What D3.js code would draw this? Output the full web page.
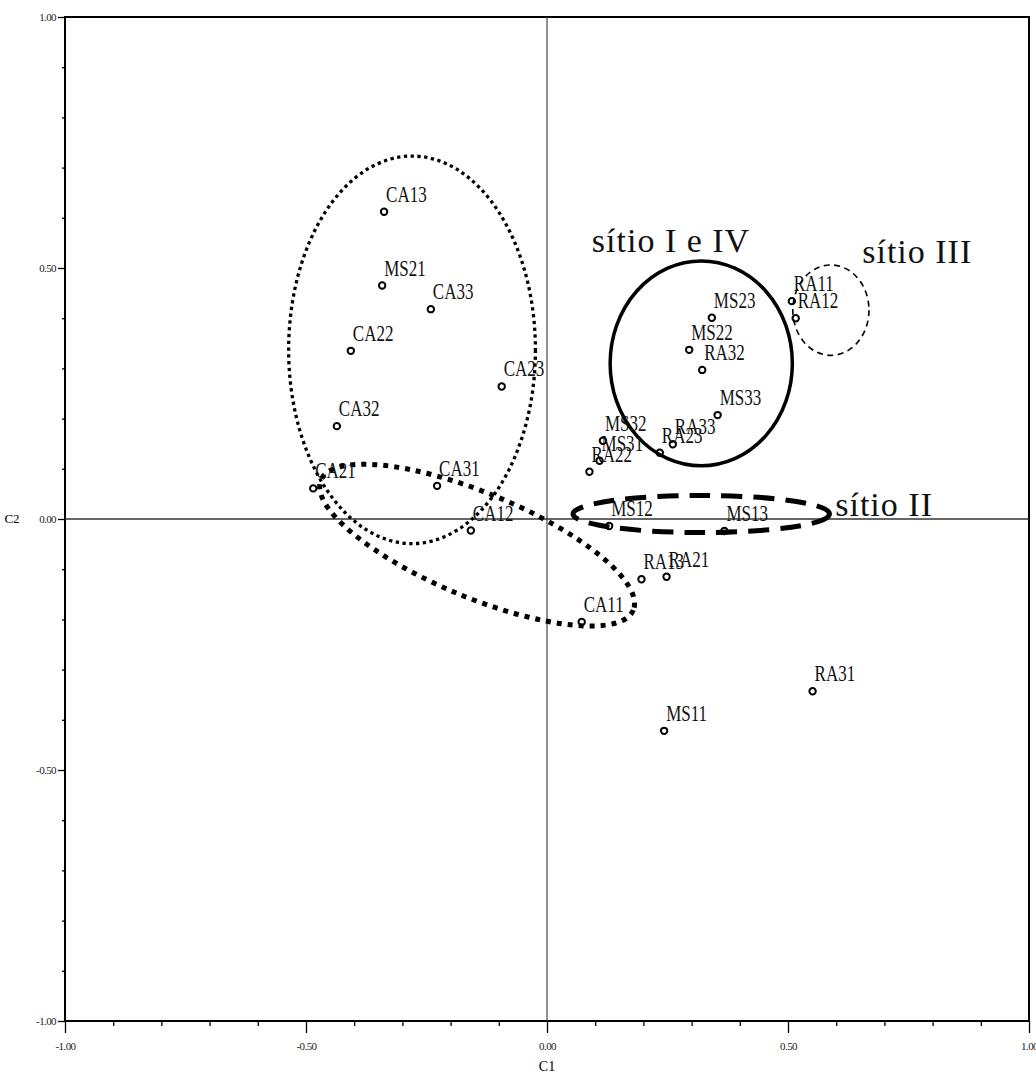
<!DOCTYPE html>
<html>
<head>
<meta charset="utf-8">
<script src="https://cdn.jsdelivr.net/npm/d3@7"></script>
<style>
  body { margin: 0; background: #fff; }
  svg { display: block; }
  text { font-family: "Liberation Serif", "Times New Roman", serif; }
</style>
</head>
<body>
<div id="chart"></div>
<script>
// sample codes and their scores on the first two axes
var samples = ["CA11", "CA12", "CA13", "CA21", "CA22", "CA23", "CA31", "CA32", "CA33",
               "MS11", "MS12", "MS13", "MS21", "MS22", "MS23", "MS31", "MS32", "MS33",
               "RA11", "RA12", "RA13", "RA21", "RA22", "RA23", "RA31", "RA32", "RA33"];
var c1 = [0.072, -0.158, -0.338, -0.485, -0.407, -0.094, -0.228, -0.436, -0.241,
          0.243, 0.129, 0.368, -0.342, 0.295, 0.342, 0.109, 0.116, 0.354,
          0.508, 0.516, 0.196, 0.248, 0.088, 0.234, 0.551, 0.322, 0.261];
var c2 = [-0.205, -0.023, 0.612, 0.061, 0.335, 0.264, 0.066, 0.185, 0.418,
          -0.422, -0.014, -0.024, 0.465, 0.337, 0.401, 0.116, 0.156, 0.207,
          0.434, 0.400, -0.120, -0.115, 0.094, 0.132, -0.343, 0.297, 0.149];

var axisLabels = ["-1.00", "-0.50", "0.00", "0.50", "1.00"];
var axisValues = [-1, -0.5, 0, 0.5, 1];

// group outlines drawn by hand on the original (centre, radii in axis units, tilt in degrees)
var groupNames = ["CA", "CA-low", "sitioIeIV", "sitioIII", "sitioII"];
var groupCx = [-0.280, -0.145, 0.320, 0.589, 0.320];
var groupCy = [0.337, -0.052, 0.310, 0.416, 0.010];
var groupRx = [0.256, 0.351, 0.189, 0.079, 0.266];
var groupRy = [0.386, 0.104, 0.204, 0.090, 0.037];
var groupTilt = [0, 22.6, 0, 0, 0];

var siteText = ["sítio I e IV", "sítio III", "sítio II"];
var siteX = [0.093, 0.654, 0.598];
var siteY = [0.532, 0.510, 0.006];

var W = 1036, H = 1074;
var svg = d3.select("#chart").append("svg").attr("width", W).attr("height", H);

var x = d3.scaleLinear().domain([-1, 1]).range([65, 1029]);
var y = d3.scaleLinear().domain([-1, 1]).range([1021, 17]);

var minor = d3.range(-10, 11).map(function (i) { return i / 10; })
  .filter(function (v) { return axisValues.indexOf(v) < 0; });
var fmt = function (d) { return axisLabels[axisValues.indexOf(d)]; };

// minor ticks
svg.append("g").attr("transform", "translate(65,0)")
  .call(d3.axisLeft(y).tickValues(minor).tickSize(3).tickFormat(""))
  .call(function (g) { g.select(".domain").remove(); });
svg.append("g").attr("transform", "translate(0,1021)")
  .call(d3.axisBottom(x).tickValues(minor).tickSize(5).tickFormat(""))
  .call(function (g) { g.select(".domain").remove(); });

// major ticks with labels
var yAx = svg.append("g").attr("transform", "translate(65,0)")
  .call(d3.axisLeft(y).tickValues(axisValues).tickSize(7).tickPadding(2).tickFormat(fmt));
yAx.select(".domain").remove();
var xAx = svg.append("g").attr("transform", "translate(0,1021)")
  .call(d3.axisBottom(x).tickValues(axisValues).tickSize(12).tickPadding(9).tickFormat(fmt));
xAx.select(".domain").remove();
svg.selectAll(".tick line").attr("stroke", "#000").attr("stroke-width", 1.3);
svg.selectAll(".tick text")
  .style("font-family", "'Liberation Serif', serif")
  .style("font-size", "11px")
  .style("letter-spacing", "-0.6px")
  .attr("fill", "#222");

// frame
svg.append("rect")
  .attr("x", x(-1)).attr("y", y(1))
  .attr("width", x(1) - x(-1)).attr("height", y(-1) - y(1))
  .attr("fill", "none").attr("stroke", "#000").attr("stroke-width", 2);

// zero lines
svg.append("line")
  .attr("x1", x(0)).attr("x2", x(0)).attr("y1", y(1)).attr("y2", y(-1))
  .attr("stroke", "#444").attr("stroke-width", 1.2);
svg.append("line")
  .attr("x1", x(-1)).attr("x2", x(1)).attr("y1", y(0)).attr("y2", y(0))
  .attr("stroke", "#333").attr("stroke-width", 1.3);

// axis titles
svg.append("text").attr("x", x(0)).attr("y", 1071).attr("text-anchor", "middle")
  .style("font-size", "14px").text("C1");
svg.append("text").attr("x", 12).attr("y", y(0) + 4).attr("text-anchor", "middle")
  .style("font-size", "13px").text("C2");

// group outlines
var outlineStyle = {
  "CA":        { w: 3.3, dash: "3.3,3.5" },
  "CA-low":    { w: 5, dash: "5,6" },
  "sitioIeIV": { w: 3.5, dash: null },
  "sitioIII":  { w: 1.6, dash: "6,4.5" },
  "sitioII":   { w: 5, dash: "21,11" }
};
var groups = groupNames.map(function (n, i) {
  return { name: n, cx: groupCx[i], cy: groupCy[i], rx: groupRx[i], ry: groupRy[i], tilt: groupTilt[i] };
});
svg.append("g").selectAll("ellipse").data(groups).join("ellipse")
  .attr("transform", function (d) {
    return "translate(" + x(d.cx) + "," + y(d.cy) + ") rotate(" + d.tilt + ")";
  })
  .attr("rx", function (d) { return x(d.rx) - x(0); })
  .attr("ry", function (d) { return y(0) - y(d.ry); })
  .attr("fill", "none")
  .attr("stroke", "#000")
  .attr("stroke-width", function (d) { return outlineStyle[d.name].w; })
  .attr("stroke-dasharray", function (d) { return outlineStyle[d.name].dash; });

// points
var pts = samples.map(function (s, i) { return { name: s, c1: c1[i], c2: c2[i] }; });
svg.append("g").selectAll("circle").data(pts).join("circle")
  .attr("cx", function (d) { return x(d.c1); })
  .attr("cy", function (d) { return y(d.c2); })
  .attr("r", 3.2)
  .attr("fill", "none")
  .attr("stroke", "#000")
  .attr("stroke-width", 2);

svg.append("g").selectAll("text").data(pts).join("text")
  .attr("transform", function (d) {
    return "translate(" + (x(d.c1) + 2) + "," + (y(d.c2) - 10) + ") scale(0.74,1)";
  })
  .style("font-size", "23px")
  .attr("fill", "#111")
  .text(function (d) { return d.name; });

// site labels
var sites = siteText.map(function (t, i) { return { t: t, x: siteX[i], y: siteY[i] }; });
svg.append("g").selectAll("text").data(sites).join("text")
  .attr("x", function (d) { return x(d.x); })
  .attr("y", function (d) { return y(d.y); })
  .style("font-size", "34px")
  .style("letter-spacing", "1px")
  .attr("fill", "#111")
  .text(function (d) { return d.t; });
</script>
</body>
</html>
